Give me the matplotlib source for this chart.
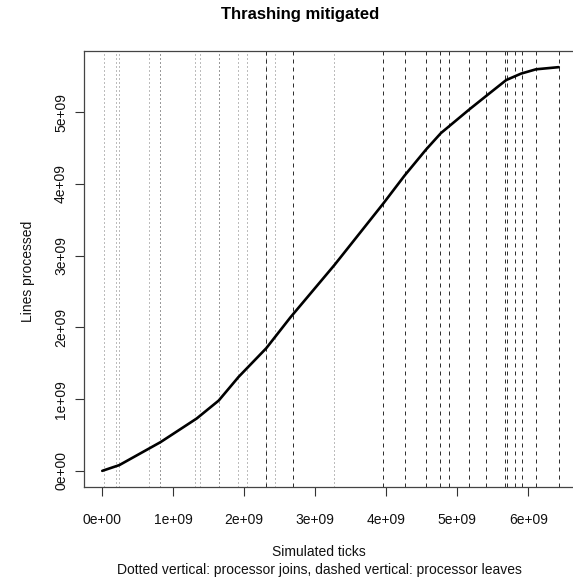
import matplotlib
matplotlib.use("Agg")
import matplotlib.pyplot as plt

plt.rcParams["font.family"] = ["Liberation Sans", "DejaVu Sans"]

# cumulative lines processed over simulated time (units of 1e9)
sim_ticks = [0.0, 0.24, 0.82, 1.33, 1.64, 1.92, 2.31, 2.65, 3.27, 3.96,
             4.26, 4.56, 4.77, 5.17, 5.41, 5.69, 5.90, 6.11, 6.43]
lines_done = [0.0, 0.08, 0.40, 0.73, 0.98, 1.31, 1.71, 2.14, 2.87, 3.73,
              4.12, 4.48, 4.71, 5.04, 5.23, 5.45, 5.54, 5.60, 5.63]

# processor membership events (units of 1e9)
joins = [0.02, 0.20, 0.24, 0.66, 0.81, 0.82, 1.31, 1.37, 1.64, 1.65,
         1.91, 2.04, 2.31, 2.44, 3.27]
leaves = [2.31, 2.68, 3.96, 4.26, 4.56, 4.76, 4.88, 5.17, 5.41, 5.68,
          5.70, 5.81, 5.91, 6.11, 6.43]

x_ticks = [0, 1, 2, 3, 4, 5, 6]
x_labels = ["0e+00", "1e+09", "2e+09", "3e+09", "4e+09", "5e+09", "6e+09"]
y_ticks = [0, 1, 2, 3, 4, 5]
y_labels = ["0e+00", "1e+09", "2e+09", "3e+09", "4e+09", "5e+09"]

W, H = 573, 583
fig = plt.figure(figsize=(W / 100, H / 100), dpi=100)

# plot region runs past the right edge of the canvas; 493 px spans the padded range
left_px, span_px, extra_px = 84, 493, 40
ax = fig.add_axes([left_px / W, 1 - 487 / H, (span_px + extra_px) / W, 436 / H])


def px(x, y):
    return x / W, 1 - y / H


for x in joins:
    ax.axvline(x, color="#7a7a7a", lw=0.72, linestyle=(0, (1, 3)))
for x in leaves:
    ax.axvline(x, color="#303030", lw=0.72, linestyle=(0, (4, 4)))

ax.plot(sim_ticks, lines_done, color="black", lw=1.9, solid_capstyle="round")

# R-style 4% padding around the data range
xr = max(sim_ticks) - min(sim_ticks)
yr = max(lines_done) - min(lines_done)
x0 = min(sim_ticks) - 0.04 * xr
x1 = max(sim_ticks) + 0.04 * xr
ax.set_xlim(x0, x1 + (x1 - x0) * extra_px / span_px)
ax.set_ylim(min(lines_done) - 0.04 * yr, max(lines_done) + 0.04 * yr)

ax.set_xticks(x_ticks)
ax.set_xticklabels(x_labels)
ax.set_yticks(y_ticks)
ax.set_yticklabels(y_labels, rotation=90, va="center")
ax.tick_params(direction="out", length=6.5, width=0.8, color="#333333",
               labelsize=10, labelcolor="#111111")
ax.tick_params(axis="x", pad=12)
ax.tick_params(axis="y", pad=5)
for side in ("left", "top", "bottom"):
    ax.spines[side].set_color("#444444")
    ax.spines[side].set_linewidth(0.9)
ax.spines["right"].set_visible(False)

fig.text(*px(300, 15), "Thrashing mitigated", ha="center", va="center",
         fontsize=12, fontweight="bold")
fig.text(*px(319, 552), "Simulated ticks", ha="center", va="center",
         fontsize=10, color="#111111")
fig.text(*px(319, 570),
         "Dotted vertical: processor joins, dashed vertical: processor leaves",
         ha="center", va="center", fontsize=10, color="#111111")
fig.text(*px(28, 271), "Lines processed", ha="center", va="center",
         rotation=90, fontsize=10, color="#111111")

fig.savefig("out.png", dpi=100)
